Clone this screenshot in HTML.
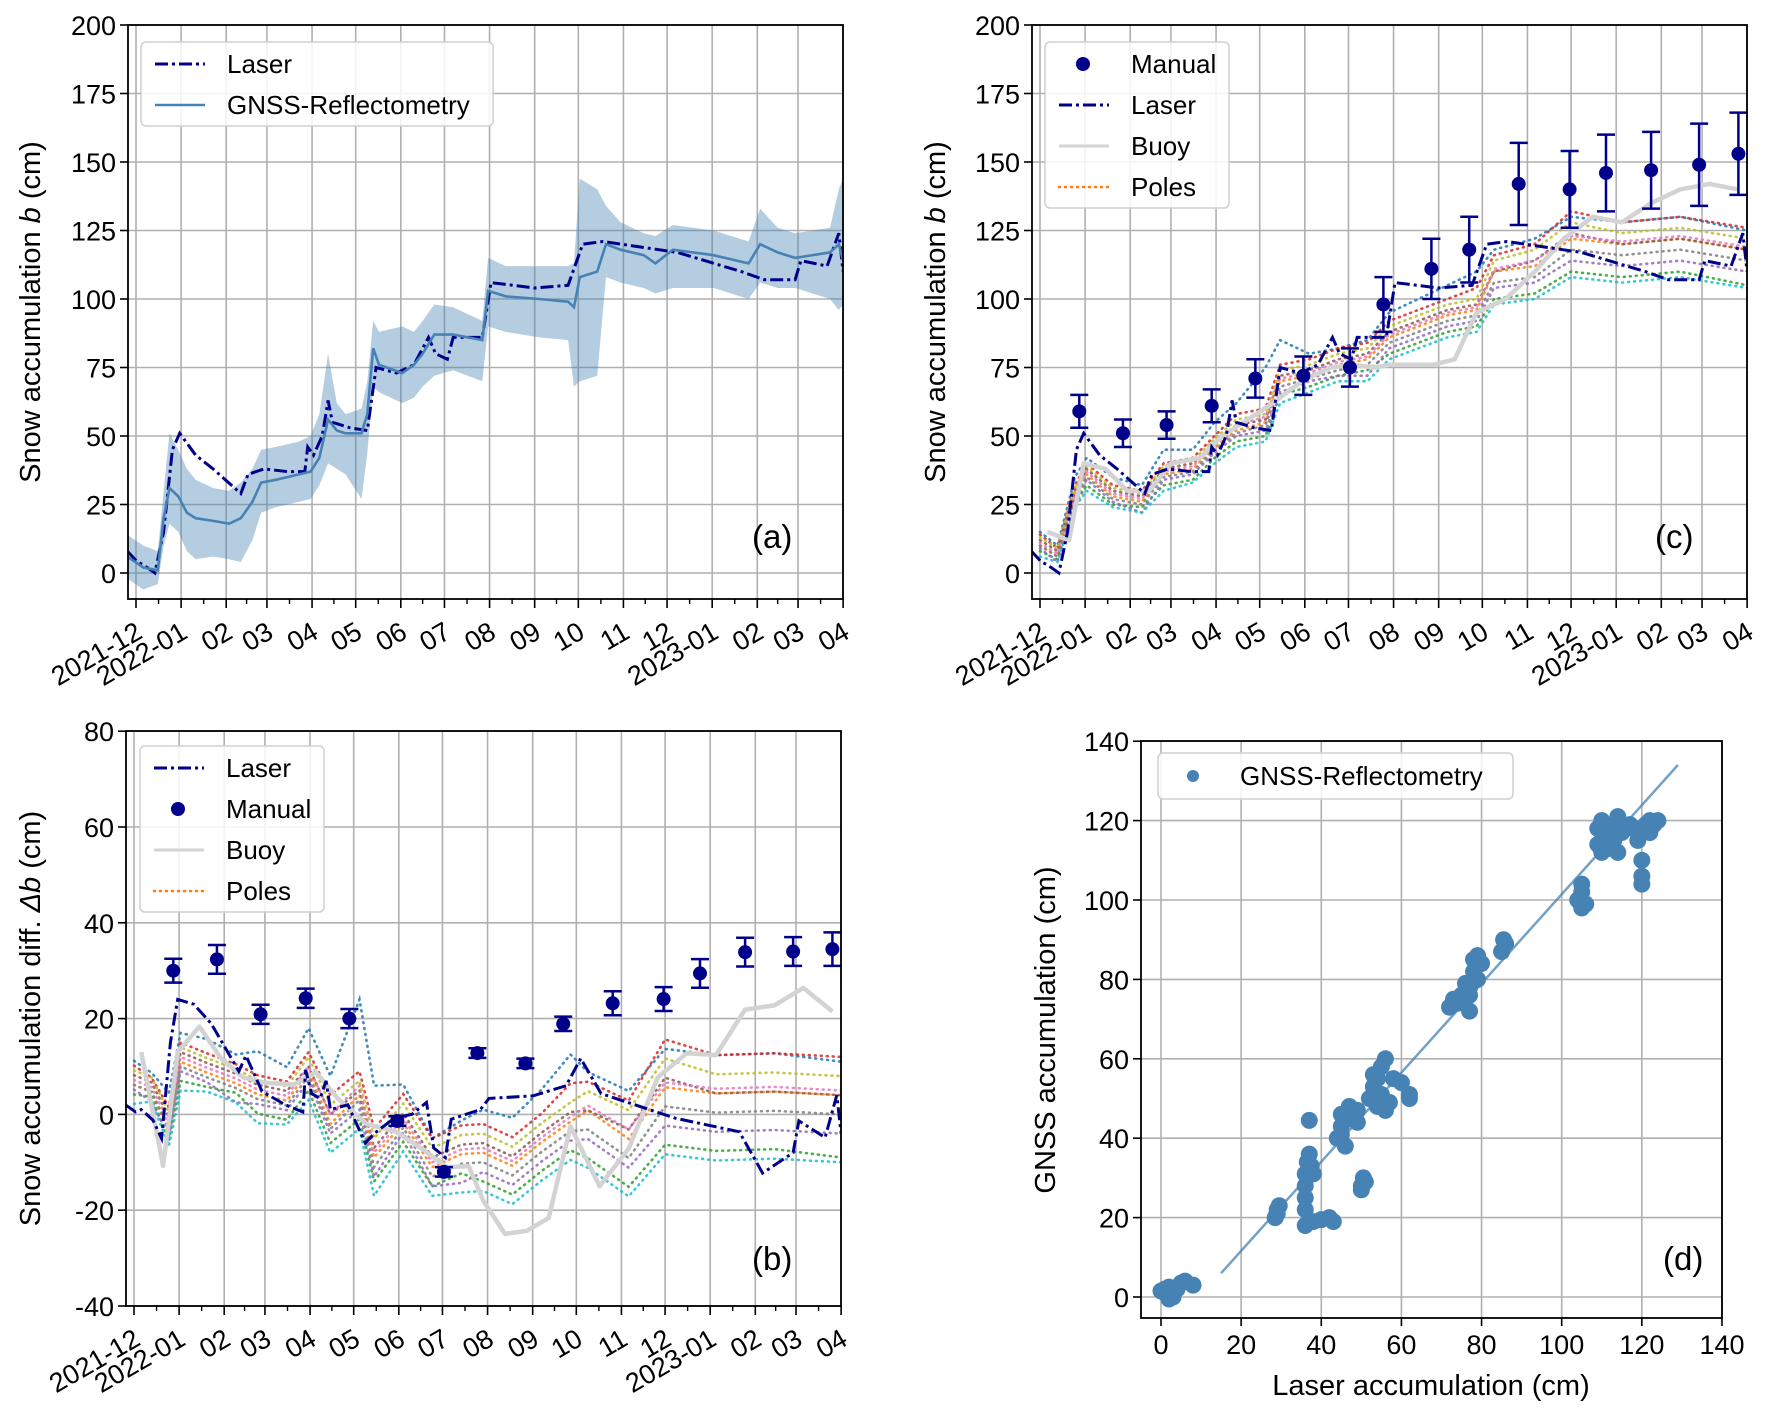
<!DOCTYPE html>
<html><head><meta charset="utf-8">
<style>
html,body{margin:0;padding:0;background:#fff;}
svg{display:block;font-family:"Liberation Sans","DejaVu Sans",sans-serif;}
</style></head>
<body>
<svg id="fig" width="1765" height="1421" viewBox="0 0 1765 1421" xmlns="http://www.w3.org/2000/svg"></svg>
<script>
const monthLabels = ["2021-12","2022-01","02","03","04","05","06","07","08","09","10","11","12","2023-01","02","03","04"];
const monthDays = [0,31,62,90,121,151,182,212,243,274,304,335,365,396,427,455,486];
const laserDays = [-6,1,5,13,19,25,30,41,53,72,77,88,104,116,118,122,128,132,135,147,159,165,179,191,201,206,214,218,238,244,274,297,307,321,372,416,432,453,457,475,483,486];
const laserVals = [8,4,3,0,15,45,51,43,38,29,36,38,37,37,46,43,50,63,55,53,52,75,73,76,86,80,78,86,86,106,104,105,120,121,117,110,107,107,114,112,124,110];
const gnssDays = [-6,5,15,19,23,29,35,41,53,64,72,80,86,96,112,120,126,132,138,144,155,159,163,167,183,191,197,205,218,238,242,254,277,297,301,305,317,323,333,349,357,369,397,421,429,441,453,477,483,486];
const gnssVals = [6,2,1,20,31,28,22,20,19,18,20,26,33,34,36,37,42,56,52,51,51,58,82,76,73,76,80,87,87,85,103,101,100,99,97,108,110,120,118,116,113,118,116,113,120,117,115,117,120,114];
const bandHi = [14,10,8,30,51,45,38,34,31,30,33,38,45,46,48,50,58,80,62,58,60,70,92,88,90,88,92,98,97,92,115,112,112,112,113,144,140,134,128,124,123,127,125,121,133,126,124,126,140,144];
const bandLo = [-2,-6,-4,10,18,15,8,5,6,5,4,12,22,24,26,27,32,40,38,36,27,44,68,66,62,64,68,72,74,70,90,88,86,85,68,70,72,108,106,104,102,104,104,100,106,104,104,100,96,98];
const manualDays = [27,57,87,118,148,181,213,236,269,295,329,364,389,420,453,480];
const manualVals = [59,51,54,61,71,72,75,98,111,118,142,140,146,147,149,153];
const manualErr = [6,5,5,6,7,7,7,10,11,12,15,14,14,14,15,15];
const manualErrB = [2.5,3,2,2,2,1,1,1,1,1.5,2.5,2.5,3,3,3,3.5];
const buoyDays = [5,20,30,45,60,75,90,110,125,140,160,180,200,215,230,240,255,270,285,300,320,340,360,380,400,420,440,460,480];
const buoyVals = [15,12,40,38,30,30,40,42,50,55,62,70,75,76,75,76,76,76,78,95,100,110,122,130,128,135,140,142,140];
const poleDays = [0,12,24,32,50,70,85,105,120,135,155,165,185,205,225,240,260,280,300,312,340,365,400,440,486];
const pole1 = [15,10,35,42,35,32,45,45,55,62,75,85,80,82,85,95,100,105,110,118,122,130,128,130,125];
const pole2 = [10,6,28,36,28,26,36,38,46,52,55,70,72,76,78,86,90,94,96,110,112,122,120,122,118];
const pole3 = [8,5,25,32,25,24,32,34,42,48,50,65,68,72,74,80,84,88,90,100,102,110,108,110,105];
const pole4 = [14,9,32,40,32,30,40,42,50,58,60,76,78,82,84,92,96,100,104,116,120,132,128,130,126];
const pole5 = [9,4,26,34,26,22,34,36,44,50,52,66,70,72,72,82,86,90,92,104,106,114,112,114,110];
const pole6 = [12,8,30,38,30,28,38,40,47,54,56,72,74,78,80,88,92,96,98,110,114,124,120,122,118];
const pole7 = [11,7,29,37,29,27,37,39,47,54,57,71,73,77,79,87,91,95,97,111,114,123,121,123,119];
const pole8 = [6,4,24,30,24,22,30,33,40,46,48,62,66,70,70,78,82,86,88,98,100,108,106,108,104];
const pole9 = [13,9,31,39,31,29,39,41,49,56,58,74,76,80,82,90,94,98,100,114,118,128,124,126,122];
const pole10 = [10,6,27,35,27,25,35,37,45,51,54,68,71,74,76,84,88,92,94,106,108,118,116,118,114];
const poleSeries = [pole1,pole2,pole3,pole4,pole5,pole6,pole7,pole8,pole9,pole10];
const poleColors = ["#1f77b4","#ff7f0e","#2ca02c","#d62728","#9467bd","#8c564b","#e377c2","#17becf","#bcbd22","#7f7f7f"];
const scatX = [0,1,2,3,2,4,5,6,8,3,1,28.5,29,29.5,29,36,36,36,36,36,36.5,37,37.5,38,38,37,40,42,43,44,45,45,46,47,47,48,49,49,45,50,50.5,51,50,52,53,53,54,55,56,56,57,55,54,58,60,62,62,72,73,74,75,76,77,77,78,78,79,80,79,77,85,86,85.5,104,105,105,106,105,109,109,110,110,111,112,113,114,115,116,117,118,119,120,120,120,121,122,123,124,122,112,114];
const scatY = [1.5,1,2.5,0,-0.5,2,3.5,4,3,1,2,20,22,23,21,18,22,25,28,31,34,36,33,31,19,44.5,19.5,20,19,40,43,46,38,45,48,46,47,44,41,28,30,29,27,50,53,56,48,58,60,47,49,51,55,55,54,51,50,73,75,74,76,79,78,72,82,85,86,84,80,76,87,89,90,100,102,104,99,98,114,118,120,112,116,118,115,121,117,118,119,118,115,110,106,104,119,120,119,120,117,113,112];
const fitX = [15,129];
const fitY = [6,134];
const yTicksAC = [0,25,50,75,100,125,150,175,200];
const yTicksB = [-40,-20,0,20,40,60,80];
const ticksD = [0,20,40,60,80,100,120,140];

const NS = "http://www.w3.org/2000/svg";
const svg = document.getElementById('fig');
function mk(tag, attrs, parent){const e=document.createElementNS(NS,tag);for(const k in attrs)e.setAttribute(k,attrs[k]);(parent||svg).appendChild(e);return e;}
function txt(s, attrs, parent){const e=mk('text',attrs,parent);e.textContent=s;return e;}
function interp(ds, vs, d){if(d<=ds[0])return vs[0];for(let i=1;i<ds.length;i++){if(d<=ds[i]){const t=(d-ds[i-1])/(ds[i]-ds[i-1]);return vs[i-1]+t*(vs[i]-vs[i-1]);}}return vs[vs.length-1];}
function pathFrom(ds, vs, X, Y){return ds.map((d,i)=>(i?'L':'M')+X(d).toFixed(1)+','+Y(vs[i]).toFixed(1)).join('');}

const PX_DAY = 1.455;
function timePanel(cfg){
  const g = mk('g',{});
  
  
  const X = d => cfg.x0 + d*PX_DAY;
  const Y = v => cfg.yZero - v*cfg.ppu;
  const clipId = cfg.name+'-clip';
  const cp = mk('clipPath',{id:clipId},g);
  mk('rect',{x:cfg.L,y:cfg.T,width:cfg.R-cfg.L,height:cfg.B-cfg.T},cp);
  const grid = mk('g',{stroke:'#b0b0b0','stroke-width':1.6},g);
  
  
  monthDays.forEach(d=>mk('line',{x1:X(d),x2:X(d),y1:cfg.T,y2:cfg.B},grid));
  cfg.yTicks.forEach(v=>mk('line',{x1:cfg.L,x2:cfg.R,y1:Y(v),y2:Y(v)},grid));
  const plot = mk('g',{'clip-path':'url(#'+clipId+')'},g);
  cfg.draw(plot, X, Y);
  const fr = mk('rect',{x:cfg.L,y:cfg.T,width:cfg.R-cfg.L,height:cfg.B-cfg.T,fill:'none',stroke:'#000','stroke-width':1.8},g);
  
  
  const ya = mk('g',{},g);
  
  
  cfg.yTicks.forEach(v=>{
    mk('line',{x1:cfg.L-8,x2:cfg.L,y1:Y(v),y2:Y(v),stroke:'#000','stroke-width':1.6},ya);
    const t=txt(String(v),{x:cfg.L-12,y:Y(v)+10,'text-anchor':'end','font-size':27,fill:'#000'},ya);
    
    
  });
  const xa = mk('g',{},g);
  
  
  monthDays.forEach((d,i)=>{
    mk('line',{x1:X(d),x2:X(d),y1:cfg.B,y2:cfg.B+9,stroke:'#000','stroke-width':1.6},xa);
    if(i<monthDays.length-1){const m=X(d+ (monthDays[i+1]-d)/2);mk('line',{x1:m,x2:m,y1:cfg.B,y2:cfg.B+5,stroke:'#000','stroke-width':1.4},xa);}
    const t=txt(monthLabels[i],{'text-anchor':'end','font-size':27,fill:'#000',transform:'translate('+(X(d)+8)+','+(cfg.B+38)+') rotate(-30)'},xa);
    
    
  });
  const yl = txt('',{'font-size':29,'text-anchor':'middle',fill:'#000',transform:'translate('+cfg.ylx+','+((cfg.T+cfg.B)/2)+') rotate(-90)'},g);
  
  
  yl.appendChild(document.createTextNode(cfg.ylabel[0]));
  const it = mk('tspan',{'font-style':'italic'},yl); it.textContent=cfg.ylabel[1];
  yl.appendChild(document.createTextNode(cfg.ylabel[2]));
  const pl = txt(cfg.tag,{x:cfg.tagX,y:cfg.tagY,'font-size':33,fill:'#000'},g);
  
  
  return {g,X,Y};
}
const LASER_STYLE = {fill:'none',stroke:'#00008b','stroke-width':3,'stroke-dasharray':'13,4,3,4'};
function laserLine(p, X, Y, vals){const e=mk('path',Object.assign({d:pathFrom(laserDays,vals,X,Y)},LASER_STYLE),p);}
function polesLines(p, X, Y, offFn){
  poleSeries.forEach((s,k)=>{
    const vals = s.map((v,i)=>v - offFn(poleDays[i]));
    const e=mk('path',{d:pathFrom(poleDays,vals,X,Y),fill:'none',stroke:poleColors[k],'stroke-width':2.6,'stroke-dasharray':'1,5','stroke-linecap':'round',opacity:0.85},p);
    
    
  });
}
function buoyLine(p,X,Y,offFn){
  const vals = buoyVals.map((v,i)=>v-offFn(buoyDays[i]));
  const e=mk('path',{d:pathFrom(buoyDays,vals,X,Y),fill:'none',stroke:'#d3d3d3','stroke-width':4.5,'stroke-linejoin':'round'},p);
  
  
}
function manualPts(p,X,Y,offFn,errs){
  manualDays.forEach((d,i)=>{
    const v = manualVals[i]-offFn(d);
    const g=mk('g',{},p);
    
    
    const x=X(d), y1=Y(v+errs[i]), y2=Y(v-errs[i]);
    mk('line',{x1:x,x2:x,y1:y1,y2:y2,stroke:'#00008b','stroke-width':2.5},g);
    mk('line',{x1:x-9,x2:x+9,y1:y1,y2:y1,stroke:'#00008b','stroke-width':2.5},g);
    mk('line',{x1:x-9,x2:x+9,y1:y2,y2:y2,stroke:'#00008b','stroke-width':2.5},g);
    mk('circle',{cx:x,cy:Y(v),r:7,fill:'#00008b'},g);
  });
}
function legend(x,y,w,h,entries,name){
  const g=mk('g',{});
  
  
  mk('rect',{x:x,y:y,width:w,height:h,rx:5,fill:'#fff','fill-opacity':0.85,stroke:'#d0d0d0','stroke-width':1.5},g);
  entries.forEach((en,i)=>{
    const cy=y+22+i*41;
    const eg=mk('g',{},g);
    
    
    if(en.kind==='dot') mk('circle',{cx:x+38,cy:cy,r:7,fill:en.color},eg);
    else mk('line',Object.assign({x1:x+14,x2:x+64,y1:cy,y2:cy},en.style),eg);
    txt(en.label,{x:x+86,y:cy+9,'font-size':26,fill:'#000'},eg);
  });
}
const gnssAt = d => interp(gnssDays,gnssVals,d);
const zero = d => 0;
const POLE_LEG = {stroke:'#ff7f0e','stroke-width':2.6,'stroke-dasharray':'1,5','stroke-linecap':'round'};

timePanel({name:'panel-a',L:128,R:843,T:25,B:599,x0:136,yZero:573,ppu:2.74,yTicks:yTicksAC,ylx:40,ylabel:['Snow accumulation ','b',' (cm)'],tag:'(a)',tagX:752,tagY:548,
  draw:(p,X,Y)=>{
    const up=gnssDays.map((d,i)=>X(d)+','+Y(bandHi[i])).join(' L');
    const lo=gnssDays.slice().reverse().map((d,i)=>{const j=gnssDays.length-1-i;return X(d)+','+Y(bandLo[j]);}).join(' L');
    const b=mk('path',{d:'M'+up+' L'+lo+'Z',fill:'#4682b4','fill-opacity':0.4,stroke:'none'},p);
    
    
    laserLine(p,X,Y,laserVals);
    const gl=mk('path',{d:pathFrom(gnssDays,gnssVals,X,Y),fill:'none',stroke:'#4682b4','stroke-width':2.6},p);
    
    
  }});
legend(141,42,352,84,[{label:'Laser',style:LASER_STYLE},{label:'GNSS-Reflectometry',style:{stroke:'#4682b4','stroke-width':2.6}}],'legend-a');

timePanel({name:'panel-c',L:1032,R:1747,T:25,B:599,x0:1040,yZero:573,ppu:2.74,yTicks:yTicksAC,ylx:945,ylabel:['Snow accumulation ','b',' (cm)'],tag:'(c)',tagX:1655,tagY:548,
  draw:(p,X,Y)=>{
    polesLines(p,X,Y,zero);
    buoyLine(p,X,Y,zero);
    laserLine(p,X,Y,laserVals);
    manualPts(p,X,Y,zero,manualErr);
  }});
legend(1045,42,184,166,[{label:'Manual',kind:'dot',color:'#00008b'},{label:'Laser',style:LASER_STYLE},{label:'Buoy',style:{stroke:'#d3d3d3','stroke-width':3}},{label:'Poles',style:POLE_LEG}],'legend-c');

timePanel({name:'panel-b',L:126,R:841,T:731,B:1306,x0:134,yZero:1114.4,ppu:4.79,yTicks:yTicksB,ylx:40,ylabel:['Snow accumulation diff. ','Δb',' (cm)'],tag:'(b)',tagX:752,tagY:1270,
  draw:(p,X,Y)=>{
    polesLines(p,X,Y,gnssAt);
    buoyLine(p,X,Y,gnssAt);
    laserLine(p,X,Y,laserVals.map((v,i)=>v-gnssAt(laserDays[i])));
    manualPts(p,X,Y,gnssAt,manualErrB);
  }});
legend(140,746,184,166,[{label:'Laser',style:LASER_STYLE},{label:'Manual',kind:'dot',color:'#00008b'},{label:'Buoy',style:{stroke:'#d3d3d3','stroke-width':3}},{label:'Poles',style:POLE_LEG}],'legend-b');

(function(){
  const L=1141,R=1722,T=741,B=1318;
  const X=v=>1161+v*4.007, Y=v=>1297-v*3.97;
  const g=mk('g',{});
  
  
  const grid=mk('g',{stroke:'#b0b0b0','stroke-width':1.6},g);
  
  
  ticksD.forEach(v=>{mk('line',{x1:X(v),x2:X(v),y1:T,y2:B},grid);mk('line',{x1:L,x2:R,y1:Y(v),y2:Y(v)},grid);});
  const pts=mk('g',{fill:'#4682b4'},g);
  
  
  scatX.forEach((x,i)=>{const c=mk('circle',{cx:X(x),cy:Y(scatY[i]),r:8.5},pts);});
  const fl=mk('line',{x1:X(fitX[0]),y1:Y(fitY[0]),x2:X(fitX[1]),y2:Y(fitY[1]),stroke:'#4682b4','stroke-width':2.5,opacity:0.75},g);
  
  
  mk('rect',{x:L,y:T,width:R-L,height:B-T,fill:'none',stroke:'#000','stroke-width':1.8},g);
  ticksD.forEach(v=>{
    mk('line',{x1:L-8,x2:L,y1:Y(v),y2:Y(v),stroke:'#000','stroke-width':1.6},g);
    const a=txt(String(v),{x:L-12,y:Y(v)+10,'text-anchor':'end','font-size':27},g);
    
    mk('line',{x1:X(v),x2:X(v),y1:B,y2:B+8,stroke:'#000','stroke-width':1.6},g);
    const b=txt(String(v),{x:X(v),y:B+36,'text-anchor':'middle','font-size':27},g);
    
  });
  const yl=txt('GNSS accumulation (cm)',{'font-size':29,'text-anchor':'middle',transform:'translate(1055,1030) rotate(-90)'},g);
  
  const xl=txt('Laser accumulation (cm)',{x:1431,y:1395,'font-size':29,'text-anchor':'middle'},g);
  
  const pl=txt('(d)',{x:1663,y:1270,'font-size':33},g);
  
})();
(function(){
  const g=mk('g',{});
  
  
  mk('rect',{x:1158,y:753,width:355,height:46,rx:5,fill:'#fff','fill-opacity':0.85,stroke:'#d0d0d0','stroke-width':1.5},g);
  mk('circle',{cx:1193,cy:776,r:6,fill:'#4682b4'},g);
  txt('GNSS-Reflectometry',{x:1240,y:785,'font-size':26},g);
})();
</script>
</body></html>
